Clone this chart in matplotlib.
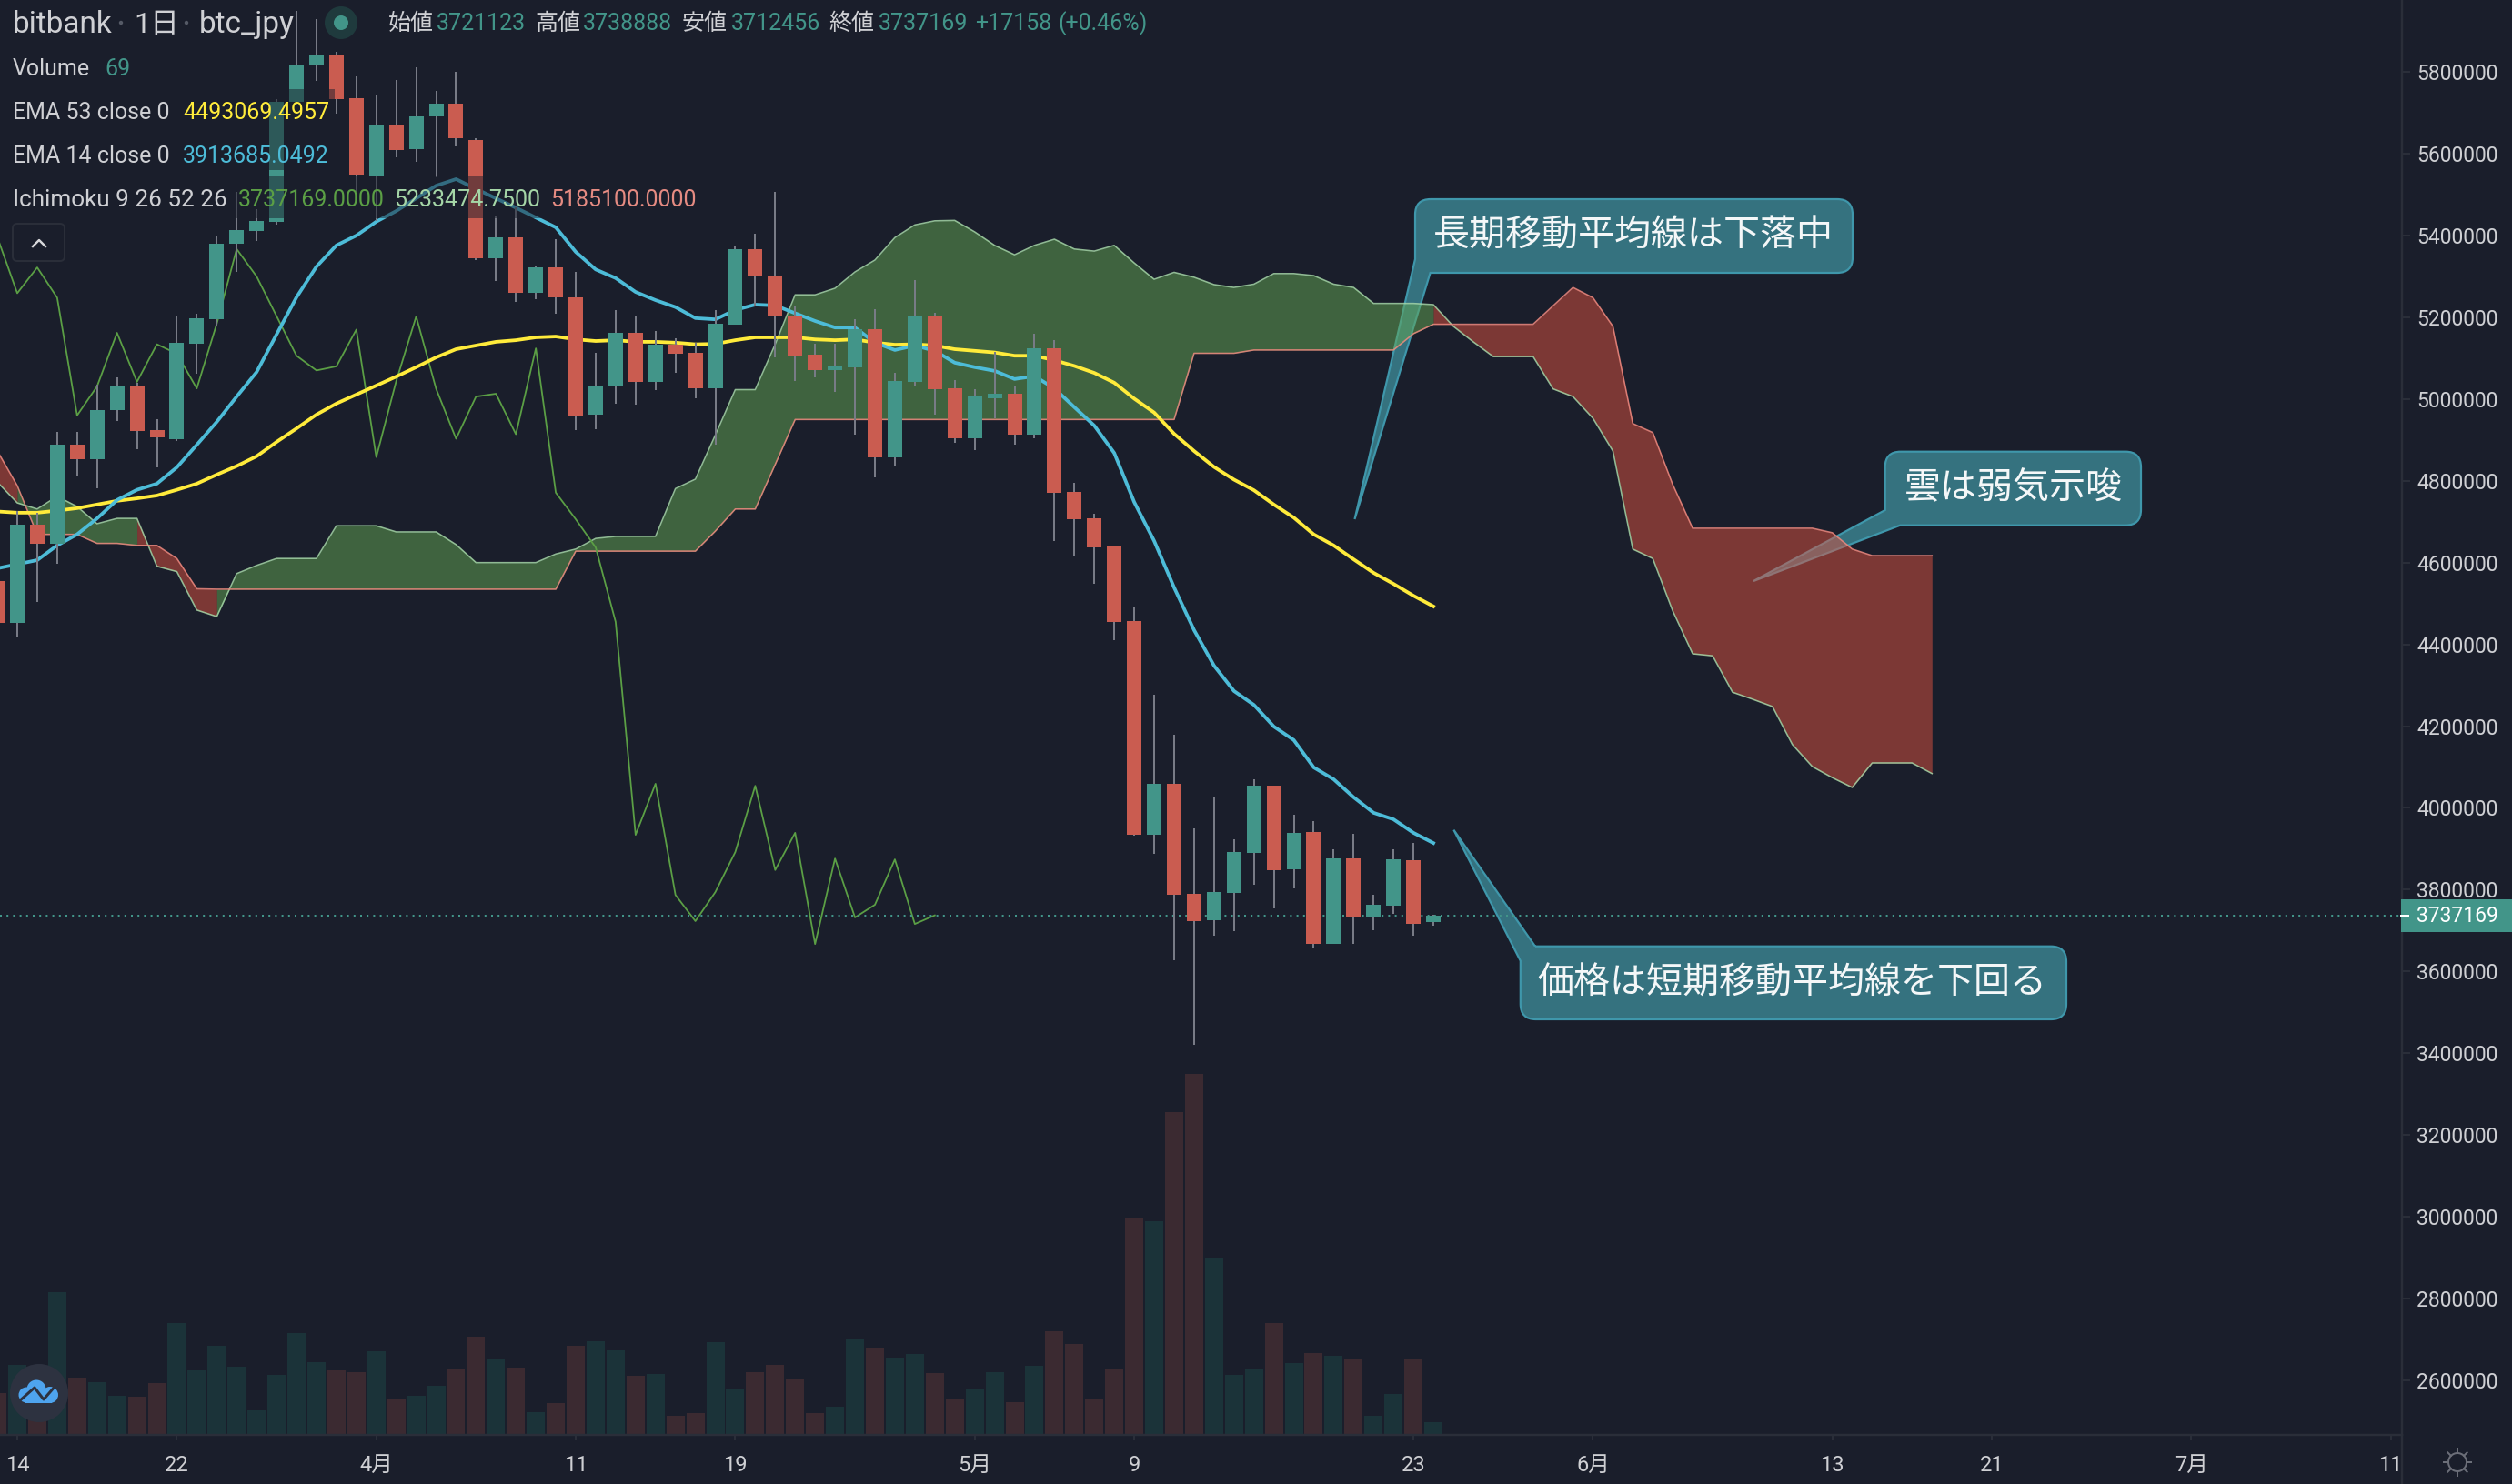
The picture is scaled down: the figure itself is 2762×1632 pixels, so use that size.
import numpy as np
import matplotlib
matplotlib.use("Agg")
import matplotlib.pyplot as plt
from matplotlib.path import Path
from matplotlib.patches import PathPatch, Circle, FancyBboxPatch, Rectangle, Ellipse, Polygon
from matplotlib.lines import Line2D
from matplotlib.transforms import Affine2D

plt.rcParams['font.family'] = ['Roboto', 'Noto Sans CJK JP', 'DejaVu Sans']

# ---- data (prices in thousand JPY, day index 0 = 14 March) ----
first_day = -1
opens = [4555,4452,4693,4647,4888,4853,4973,5031,4924,4902,5135,5195,5380,5411,5433,5726,5818,5840,5736,5545,
         5669,5611,5692,5723,5634,5344,5396,5259,5322,5249,4962,5031,5162,5042,5134,5113,5026,5182,5367,5300,
         5203,5109,5071,5078,5171,4858,5042,5202,5026,4903,5003,5013,4914,5124,4773,4708,4639,4457,3934,4059,
         3790,3725,3792,3890,4054,3850,3941,3667,3876,3732,3761,3872,3721.123]
highs = [4580,4725,4722,4920,4920,5036,5053,5040,4951,5202,5209,5400,5507,5464,5734,5949,5929,5850,5789,5743,
         5780,5812,5754,5800,5638,5447,5468,5327,5392,5311,5114,5218,5202,5167,5149,5138,5218,5373,5404,5507,
         5229,5136,5136,5195,5220,5064,5291,5211,5046,5024,5115,5031,5160,5144,4795,4719,4641,4492,4277,4179,
         3950,4025,3923,4070,4054,3983,3968,3899,3937,3788,3899,3914,3738.888]
lows = [4421,4419,4504,4597,4810,4782,4947,4877,4833,4897,5062,5178,5311,5387,5426,5720,5778,5698,5507,5436,
        5591,5581,5542,5618,5340,5289,5238,5245,5209,4925,4926,4989,4986,5023,5064,5001,4888,5182,5229,5102,
        5045,5053,5017,4914,4808,4834,5031,4962,4893,4876,4953,4889,4904,4653,4615,4548,4411,3932,3888,3627,
        3420,3687,3698,3812,3754,3803,3658,3667,3667,3701,3741,3687,3712.456]
closes = [4452,4693,4647,4888,4853,4973,5031,4922,4906,5138,5198,5380,5413,5436,5726,5818,5843,5734,5549,5669,
          5609,5692,5723,5637,5344,5396,5259,5322,5248,4960,5031,5162,5042,5134,5111,5026,5184,5367,5300,5203,
          5106,5070,5080,5170,4858,5044,5202,5025,4903,5006,5013,4914,5124,4771,4706,4637,4455,3934,4059,3787,
          3723,3794,3892,4054,3848,3939,3667,3876,3732,3763,3874,3716,3737.169]
volumes = [248,418,276,855,340,312,230,225,307,669,384,532,406,143,356,608,433,384,373,499,
           214,230,290,395,586,455,400,132,186,532,559,504,351,362,110,126,554,269,373,417,
           329,125,167,569,519,459,480,366,212,272,372,190,409,618,541,212,387,1304,1282,1938,
           2169,1062,355,387,668,426,485,471,448,108,240,448,69]
ema53 = [4725,4722,4722,4727,4733,4742,4751,4757,4764,4778,4793,4815,4836,4860,4895,4928,4962,4989,5011,5033,
         5055,5078,5102,5122,5131,5140,5144,5151,5153,5146,5142,5144,5140,5140,5138,5134,5135,5144,5151,5151,
         5151,5146,5144,5146,5138,5133,5134,5131,5122,5118,5114,5106,5106,5095,5081,5064,5040,5001,4967,4915,
         4873,4834,4803,4777,4742,4710,4669,4642,4608,4575,4548,4519,4493]
ema14 = [4586,4596,4606,4642,4669,4708,4753,4778,4793,4833,4888,4944,5006,5066,5158,5249,5324,5376,5400,5434,
         5460,5491,5522,5538,5514,5491,5468,5444,5420,5360,5317,5296,5262,5242,5225,5198,5195,5218,5231,5229,
         5210,5191,5175,5175,5138,5120,5131,5118,5089,5078,5069,5049,5056,5026,4980,4935,4868,4748,4653,4539,
         4435,4348,4286,4252,4199,4166,4099,4070,4026,3988,3972,3939,3914]
senkou_a = [4797,4746,4731,4762,4737,4695,4708,4708,4591,4578,4484,4468,4573,4593,4610,4610,4610,4690,4690,4690,
            4675,4675,4675,4644,4600,4600,4600,4600,4621,4633,4659,4664,4664,4664,4781,4804,4912,5023,5023,5134,
            5255,5255,5271,5311,5340,5395,5426,5436,5437,5409,5376,5353,5376,5391,5367,5362,5376,5333,5293,5310,
            5298,5280,5273,5281,5307,5307,5302,5281,5273,5234,5234,5234,5231,5178,5140,5104,5104,5104,5025,5006,
            4953,4873,4633,4610,4482,4377,4372,4283,4266,4248,4155,4101,4074,4050,4110,4110,4110,4084]
senkou_b = [4873,4788,4669,4669,4669,4647,4647,4642,4642,4610,4536,4535,4535,4535,4535,4535,4535,4535,4535,4535,
            4535,4535,4535,4535,4535,4535,4535,4535,4535,4628,4628,4628,4628,4628,4628,4628,4677,4731,4731,4840,
            4950,4950,4950,4950,4950,4950,4950,4950,4950,4950,4950,4950,4950,4950,4950,4950,4950,4950,4950,4950,
            5112,5112,5112,5120,5120,5120,5120,5120,5120,5120,5120,5160,5183,5183,5183,5183,5183,5183,5228,5273,
            5248,5178,4940,4918,4791,4684,4684,4684,4684,4684,4684,4684,4673,4633,4617,4617,4617,4617]
chikou_shift = 25
x_tick_days = [0, 8, 18, 28, 36, 48, 56, 70, 79, 91, 99, 109, 119]
x_tick_labels = ['14', '22', '4月', '11', '19', '5月', '9', '23', '6月', '13', '21', '7月', '11']
y_tick_values = list(range(2600000, 5800001, 200000))
last_price = 3737169

# ---- style ----
W, H = 2762, 1632
BG = '#1a1e2b'
UP = '#429589'
DOWN = '#ca5c50'
VOL_UP = '#1b3339'
VOL_DOWN = '#3b2a31'
AXC = '#2a2e39'
TXT = '#cfd0d4'
YEL = '#ffeb3b'
BLU = '#4dbcd8'
GRN = '#5b9f45'
SPANA = '#a5d6a7'
SPANB = '#ef8a80'
def lw(px):
    return px * 72 / 100

fig = plt.figure(figsize=(W / 100, H / 100), dpi=100, facecolor=BG)
PX = Affine2D().scale(1 / W, -1 / H).translate(0, 1) + fig.transFigure

RIGHT, BOTTOM = 2641, 1578
rect = [0, 1 - BOTTOM / H, RIGHT / W, BOTTOM / H]
ax_v = fig.add_axes(rect, zorder=0, facecolor=BG)
ax = fig.add_axes(rect, zorder=1)
ax.patch.set_alpha(0)

O, Hi, Lo, C = [np.array(a, dtype=float) * 1000 for a in (opens, highs, lows, closes)]
days = np.arange(len(O)) + first_day
cloud_days = np.arange(len(senkou_a)) + first_day
A = np.array(senkou_a, dtype=float) * 1000
B = np.array(senkou_b, dtype=float) * 1000
up = C >= O

STEP = 21.93
xlim = ((0 - 19) / STEP, (RIGHT - 19) / STEP)
ylim = (2466300, 5976100)
for a in (ax, ax_v):
    a.set_xlim(*xlim)
ax.set_ylim(*ylim)
VSCALE = 5.48
ax_v.set_ylim(-1 * VSCALE, 1577 * VSCALE)
ax_v.axis('off')

# volume
vol = np.array(volumes, dtype=float)
ax_v.bar(days, vol, width=20 / STEP, color=[VOL_UP if u else VOL_DOWN for u in up], linewidth=0)

# callouts
def callout(l, t, r, b, attach1, tip, attach2, corner, rc=17):
    P = []
    def mv(p): P.append((Path.MOVETO, p))
    def ln(p): P.append((Path.LINETO, p))
    def cv(c, p):
        P.append((Path.CURVE3, c)); P.append((Path.CURVE3, p))
    if corner == 'bl':
        mv((l + rc, t)); ln((r - rc, t)); cv((r, t), (r, t + rc)); ln((r, b - rc)); cv((r, b), (r - rc, b))
        ln(attach2); ln(tip); ln(attach1); ln((l, t + rc)); cv((l, t), (l + rc, t))
    else:
        mv(attach1); ln((r - rc, t)); cv((r, t), (r, t + rc)); ln((r, b - rc)); cv((r, b), (r - rc, b))
        ln((l + rc, b)); cv((l, b), (l, b - rc)); ln(attach2); ln(tip); ln(attach1)
    codes = [c for c, _ in P]
    verts = [v for _, v in P]
    patch = PathPatch(Path(verts, codes), facecolor='#35727f', edgecolor='#3f97ab', linewidth=lw(2.2),
                      transform=PX, clip_on=False, zorder=1, joinstyle='miter')
    ax.add_patch(patch)

callout(1556, 219, 2037, 300, (1556, 285), (1489.5, 571), (1572.6, 300), 'bl')
callout(2072.7, 496.7, 2354, 577.7, (2072.7, 561), (1928, 639), (2089.3, 577.7), 'bl')
callout(1671.8, 1040.7, 2272, 1121, (1688, 1040.7), (1598.4, 912.7), (1671.8, 1056.7), 'tl')
CJK = ['Noto Sans CJK JP', 'DejaVu Sans']
for (tx, ty, s) in [(1796, 260, '長期移動平均線は下落中'),
                    (2213.7, 537, '雲は弱気示唆'),
                    (1970.7, 1082, '価格は短期移動平均線を下回る')]:
    fig.text(tx, ty, s, transform=PX, color='#f4f7f8', fontsize=28.8, family=CJK,
             ha='center', va='center', zorder=5)

# Ichimoku cloud: runs of segments sharing a colour, each coloured by its end node
above = A[1:] >= B[1:]
start = 0
for k in range(1, len(above) + 1):
    if k == len(above) or above[k] != above[start]:
        col = '#64a853' if above[start] else '#de5240'
        ax.fill_between(cloud_days[start:k + 1], A[start:k + 1], B[start:k + 1], color=col, alpha=0.5,
                        linewidth=0, zorder=2)
        start = k
ax.plot(cloud_days, A, color=SPANA, lw=lw(1.6), alpha=0.85, zorder=2.2)
ax.plot(cloud_days, B, color=SPANB, lw=lw(1.6), alpha=0.85, zorder=2.2)

# lagging span and EMAs
ax.plot(days[:-chikou_shift], C[chikou_shift:], color=GRN, lw=lw(1.8), zorder=2.5)
ax.plot(days, np.array(ema53) * 1000, color=YEL, lw=lw(3.8), zorder=3, solid_joinstyle='round')
ax.plot(days, np.array(ema14) * 1000, color=BLU, lw=lw(3.8), zorder=3, solid_joinstyle='round')

# last price line
ax.axhline(last_price, color=UP, lw=lw(2), linestyle=(0, (1, 2.6)), zorder=3.2)

# candles
ax.vlines(days, Lo, Hi, color='#787b86', lw=lw(2), zorder=3.5)
ax.bar(days, np.abs(C - O), bottom=np.minimum(C, O), width=16 / STEP,
       color=[UP if u else DOWN for u in up], linewidth=0, zorder=4)

# legend dimming backgrounds
for (x0, y0, x1, y1) in [(0, 98, 368, 187), (0, 194, 770, 240)]:
    ax.add_patch(Rectangle((x0, y0), x1 - x0, y1 - y0, transform=PX, facecolor=BG, alpha=0.5,
                           edgecolor='none', zorder=6))

# axes
for s in ('top', 'left'):
    ax.spines[s].set_visible(False)
for s in ('right', 'bottom'):
    ax.spines[s].set_color(AXC)
    ax.spines[s].set_linewidth(lw(2.4))
ax.yaxis.tick_right()
ax.set_yticks(y_tick_values)
ax.set_yticklabels([str(v) for v in y_tick_values])
ax.tick_params(axis='y', length=lw(9), width=lw(2), color=AXC, pad=lw(7), labelsize=16.5, labelcolor=TXT)
ax.set_xticks(x_tick_days)
ax.set_xticklabels(x_tick_labels)
ax.tick_params(axis='x', length=lw(6), width=lw(2), color=AXC, pad=lw(16), labelsize=17, labelcolor=TXT)
fig.add_artist(Line2D([RIGHT, RIGHT], [BOTTOM, H], transform=PX, color=AXC, lw=lw(2.4)))

# last price tag
fig.add_artist(Rectangle((2640, 989), 122, 36, transform=PX, facecolor=UP, edgecolor='none', zorder=4))
fig.add_artist(Line2D([2640, 2648], [1006.5, 1006.5], transform=PX, color='white', lw=lw(2), zorder=4.5))
fig.text(2657, 1007, str(last_price), transform=PX, color='white', fontsize=16.5, va='center', ha='left', zorder=5)

# legend text
def T(x, y, s, c=TXT, fs=18, **kw):
    fig.text(x, y, s, transform=PX, color=c, fontsize=fs, va='center', ha='left', zorder=7, **kw)

T(14, 27, 'bitbank', fs=24)
T(147.5, 27, '1日', fs=23)
T(219, 27, 'btc_jpy', fs=24)
for cx in (133, 205):
    fig.add_artist(Circle((cx, 25), 2.2, transform=PX, facecolor='#555a66', edgecolor='none', zorder=7))
fig.add_artist(Circle((375, 25), 18, transform=PX, facecolor='#1f3a3d', edgecolor='none', zorder=7))
fig.add_artist(Circle((375, 25), 8, transform=PX, facecolor=UP, edgecolor='none', zorder=7.5))
for x, s, c in [(427, '始値', TXT), (480, '3721123', UP), (588, '高値', TXT), (641, '3738888', UP),
                (750, '安値', TXT), (803.6, '3712456', UP), (911, '終値', TXT), (965.4, '3737169', UP),
                (1071.6, '+17158', UP), (1163.5, '(+0.46%)', UP)]:
    T(x, 26, s, c)
T(14, 76, 'Volume'); T(115.4, 76, '69', UP)
T(14, 124, 'EMA 53 close 0'); T(201, 124, '4493069.4957', YEL)
T(14, 172, 'EMA 14 close 0'); T(201, 172, '3913685.0492', BLU)
T(14, 220, 'Ichimoku 9 26 52 26', fs=18.8)
T(262, 220, '3737169.0000', GRN); T(433, 220, '5233474.7500', SPANA); T(605.6, 220, '5185100.0000', '#e58b82')

# collapse button
fig.add_artist(FancyBboxPatch((16, 248), 53, 37, boxstyle='round,pad=2,rounding_size=5', transform=PX,
                              facecolor=BG, edgecolor=AXC, lw=lw(2), zorder=7))
fig.add_artist(Line2D([36, 43, 50], [271, 264, 271], transform=PX, color='#d8d9dc', lw=lw(2.4), zorder=8))

# logo
fig.add_artist(Circle((43, 1532), 32, transform=PX, facecolor='#2d3240', edgecolor='none', zorder=7))
LOGO = '#4ea4ee'
for cx, cy, r in [(40, 1528, 10.5), (29, 1534, 8.5), (55, 1534, 9)]:
    fig.add_artist(Circle((cx, cy), r, transform=PX, facecolor=LOGO, edgecolor='none', zorder=7.2))
fig.add_artist(Rectangle((27, 1532), 30, 11, transform=PX, facecolor=LOGO, edgecolor='none', zorder=7.2))
fig.add_artist(Line2D([21, 38, 48, 61], [1541, 1526, 1539, 1524], transform=PX, color='#2d3240', lw=lw(3), zorder=7.4))

# settings icon
fig.add_artist(Ellipse((2702, 1608), 20, 20, transform=PX, facecolor='none', edgecolor='#6b6e78', lw=lw(2), zorder=7))
for ang in np.arange(0, 360, 45):
    c, s = np.cos(np.radians(ang)), np.sin(np.radians(ang))
    fig.add_artist(Line2D([2702 + 10 * c, 2702 + 15 * c], [1608 + 10 * s, 1608 + 15 * s], transform=PX,
                          color='#6b6e78', lw=lw(2), zorder=7))

fig.savefig('out.png', dpi=100, facecolor=BG)
